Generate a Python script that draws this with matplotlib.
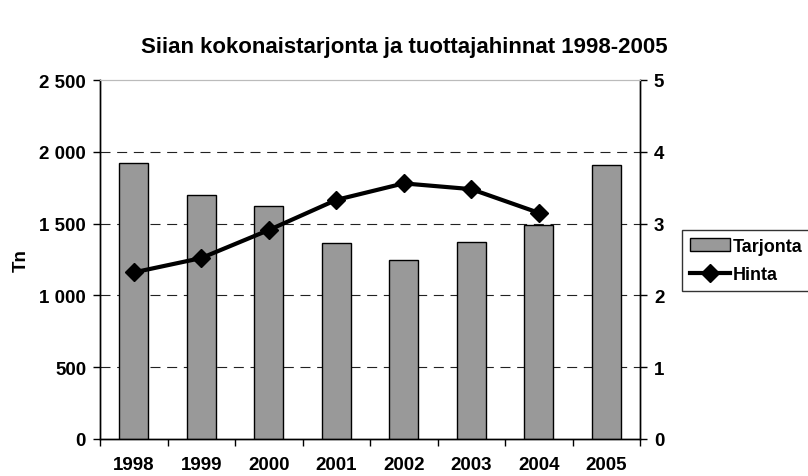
import matplotlib
matplotlib.use("Agg")
import matplotlib.pyplot as plt
import numpy as np

plt.rcParams['font.family'] = ['Liberation Sans', 'DejaVu Sans']
plt.rcParams['font.weight'] = 'bold'

years = ['1998', '1999', '2000', '2001', '2002', '2003', '2004', '2005']
tarjonta = [1925, 1700, 1620, 1365, 1245, 1372, 1492, 1908]
hinta = [2.32, 2.52, 2.91, 3.33, 3.56, 3.48, 3.15, np.nan]

fig = plt.figure(figsize=(8.08, 4.77), dpi=100)
ax = fig.add_axes([100 / 808, 1 - 440 / 477, 540 / 808, 359 / 477])
ax2 = ax.twinx()

x = np.arange(len(years))
bars = ax.bar(x, tarjonta, width=0.43, color='#999999', edgecolor='black',
              linewidth=1.0, label='Tarjonta', zorder=3)
line, = ax2.plot(x, hinta, color='black', linewidth=3, marker='D',
                 markersize=9, label='Hinta', zorder=4)

ax.set_xlim(-0.5, len(years) - 0.5)
ax.set_ylim(0, 2500)
ax2.set_ylim(0, 5)

ax.set_yticks([0, 500, 1000, 1500, 2000, 2500])
ax.set_yticklabels(['0', '500', '1 000', '1 500', '2 000', '2 500'])
ax2.set_yticks([0, 1, 2, 3, 4, 5])

ax.set_xticks(x)
ax.set_xticklabels(years)
ax.set_xticks(np.arange(-0.5, len(years)), minor=True)
ax.tick_params(axis='x', which='major', length=0, pad=12, labelsize=13.5)
ax.tick_params(axis='x', which='minor', length=5, width=1, direction='out')
ax.tick_params(axis='y', length=5, width=1, direction='out', labelsize=13.5, pad=5)
ax2.tick_params(axis='y', length=5, width=1, direction='out', labelsize=13.5, pad=5)

for y in [500, 1000, 1500, 2000]:
    ax.axhline(y, color='#222222', linewidth=0.8, linestyle=(0, (9, 6)), zorder=1)

for a in (ax, ax2):
    a.spines['top'].set_color('#bbbbbb')
    a.spines['top'].set_linewidth(0.8)
    a.spines['left'].set_linewidth(1.0)
    a.spines['right'].set_linewidth(1.0)
    a.spines['bottom'].set_linewidth(1.0)

ax.set_ylabel('Tn', fontsize=13.5, fontweight='bold', labelpad=7)

fig.suptitle('Siian kokonaistarjonta ja tuottajahinnat 1998-2005',
             x=0.5, y=1 - 47 / 477, va='center', fontsize=16, fontweight='bold')

leg = fig.legend([bars, line], ['Tarjonta', 'Hinta'], loc='upper left',
                 bbox_to_anchor=(682 / 808, 1 - 231 / 477), borderaxespad=0,
                 fontsize=13, frameon=True, fancybox=False, edgecolor='black',
                 handlelength=2.2, handleheight=0.7, handletextpad=0.15,
                 borderpad=0.45, labelspacing=0.6)
leg.get_frame().set_linewidth(1.0)

fig.savefig('out.png', dpi=100)
